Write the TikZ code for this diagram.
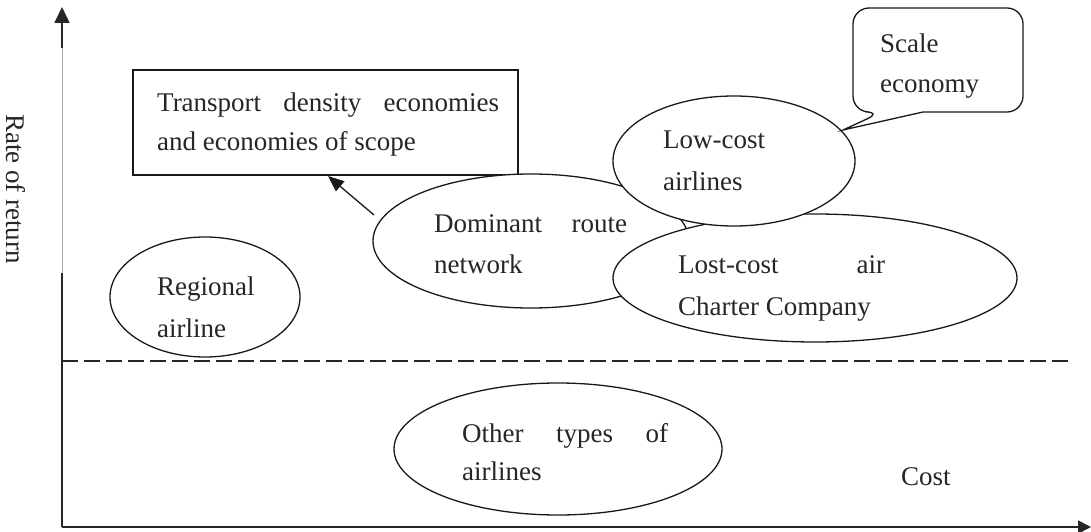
\documentclass[tikz,border=0pt]{standalone}
\usepackage{fontspec}
\setmainfont{Liberation Serif}
\usetikzlibrary{shapes.geometric,arrows.meta}
\begin{document}
\begin{tikzpicture}[x=1pt,y=-1pt,
  every node/.style={font=\fontsize{27}{40}\selectfont,text=black!85},
  oval/.style={ellipse,draw=black!90,line width=1.3pt,fill=white,inner sep=0pt},
  lbl/.style={anchor=base west,inner sep=0pt},
  axisline/.style={line width=1.7pt,draw=black!85},
  faint/.style={line width=0.6pt,draw=black!35},
  boxline/.style={line width=1.3pt,draw=black!90}]
\useasboundingbox (0,0) rectangle (1091,532);

% axes
\coordinate (O) at (62,527);
\coordinate (ymid) at (62,273);
\coordinate (ythin) at (62,48);
\coordinate (ytop) at (62,7);
\coordinate (xend) at (1091,527);
\draw[axisline] (O) -- (ymid);
\draw[faint] (ymid) -- (ythin);
\draw[axisline,-{Triangle[length=16pt,width=15pt]}] (ythin) -- (ytop);
\draw[axisline,-{Triangle[length=13pt,width=13pt]}] (O) -- (xend);

% dashed threshold
\coordinate (d0) at (62,361);
\coordinate (d1) at (1068,361);
\draw[line width=1.4pt,draw=black!85,dash pattern=on 16pt off 6pt] (d0) -- (d1);

% axis labels
\node[inner sep=0pt,rotate=-90] (rate) at (16,189) {Rate of return};
\node[lbl] (cost) at (901,485) {Cost};

% rectangle box
\node[boxline,draw,fill=white,minimum width=385pt,minimum height=105pt,inner sep=0pt] (rect) at (325.5,122.5) {};
\node[lbl] (t1a) at (157,112) {\makebox[342pt][s]{Transport density economies}};
\node[lbl] (t1b) at (157,150) {and economies of scope};

% regional airline
\node[oval,minimum width=190pt,minimum height=120pt] (reg) at (205,297) {};
\node[lbl] (t2a) at (157,295) {Regional};
\node[lbl] (t2b) at (157,337) {airline};

% dominant route network
\node[oval,minimum width=316pt,minimum height=134pt] (dom) at (531,241) {};
\node[lbl] (t3a) at (434,232) {\makebox[193pt][s]{Dominant route}};
\node[lbl] (t3b) at (434,273) {network};

% lost-cost air charter
\node[oval,minimum width=404pt,minimum height=128pt] (lcc) at (815,278) {};
\node[lbl] (t4a) at (678,273) {\makebox[207pt][s]{Lost-cost air}};
\node[lbl] (t4b) at (678,315) {Charter Company};

% low-cost airlines
\node[oval,minimum width=242pt,minimum height=130pt] (low) at (734,161) {};
\node[lbl] (t5a) at (663,148) {Low-cost};
\node[lbl] (t5b) at (663,190) {airlines};

% other types
\node[oval,minimum width=328pt,minimum height=132pt] (oth) at (558,449) {};
\node[lbl] (t6a) at (462,442) {\makebox[206pt][s]{Other types of}};
\node[lbl] (t6b) at (462,480) {airlines};

% scale economy callout
\coordinate (tip) at (843,130);
\draw[boxline,fill=white] (tip) -- (923,112) [rounded corners=16pt] -- (1023,112) -- (1023,8) -- (853,8) -- (853,112) -- (882,112) [sharp corners] -- cycle;
\node[lbl] (t7a) at (880,53) {Scale};
\node[lbl] (t7b) at (880,93) {economy};

% arrow from dominant to rect
\coordinate (atail) at (374,215);
\coordinate (ahead) at (328,176);
\draw[boxline,-{Triangle[length=16pt,width=13pt]}] (atail) -- (ahead);
\end{tikzpicture}
\end{document}
